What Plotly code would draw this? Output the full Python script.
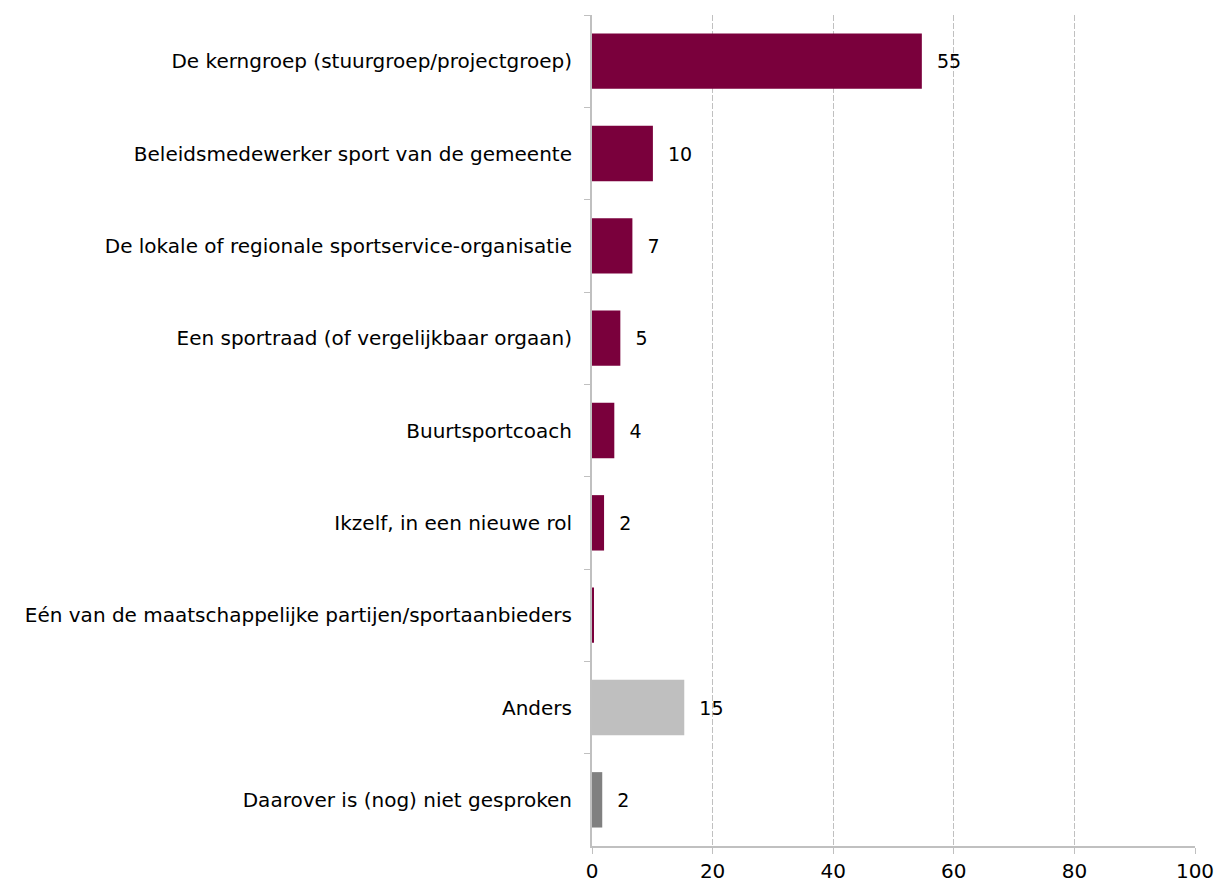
import plotly.graph_objects as go

categories = [
    "De kerngroep (stuurgroep/projectgroep)",
    "Beleidsmedewerker sport van de gemeente",
    "De lokale of regionale sportservice-organisatie",
    "Een sportraad (of vergelijkbaar orgaan)",
    "Buurtsportcoach",
    "Ikzelf, in een nieuwe rol",
    "Eén van de maatschappelijke partijen/sportaanbieders",
    "Anders",
    "Daarover is (nog) niet gesproken",
]
values = [54.7, 10.1, 6.7, 4.7, 3.7, 2.0, 0.3, 15.3, 1.7]
labels = ["55", "10", "7", "5", "4", "2", "", "15", "2"]
colors = ["#7A003C"] * 7 + ["#BFBFBF", "#808080"]

font = "DejaVu Sans"

fig = go.Figure(
    go.Bar(
        x=values,
        y=categories,
        orientation="h",
        marker=dict(color=colors, line=dict(width=0)),
        width=0.6,
        text=["  " + l if l else "" for l in labels],
        textposition="outside",
        textfont=dict(family=font, size=19, color="#000000"),
        cliponaxis=False,
        hoverinfo="skip",
    )
)

fig.update_layout(
    width=1216,
    height=882,
    margin=dict(l=592, r=21, t=15, b=36),
    plot_bgcolor="white",
    paper_bgcolor="white",
    showlegend=False,
    font=dict(family=font, size=19, color="#000000"),
)
fig.update_xaxes(
    range=[0, 100],
    tickvals=[0, 20, 40, 60, 80, 100],
    showgrid=True,
    gridcolor="#C0C0C0",
    griddash="6px,2px",
    gridwidth=1,
    showline=True,
    linecolor="#C0C0C0",
    linewidth=2,
    ticks="outside",
    ticklen=6,
    tickcolor="#C0C0C0",
    tickfont=dict(family=font, size=20),
    zeroline=False,
    automargin=False,
    fixedrange=True,
)
fig.update_yaxes(
    categoryorder="array",
    categoryarray=categories,
    autorange="reversed",
    showline=True,
    linecolor="#C0C0C0",
    linewidth=2,
    ticks="outside",
    tickson="boundaries",
    ticklen=6,
    tickcolor="#C0C0C0",
    showgrid=False,
    tickfont=dict(family=font, size=20),
    ticklabelstandoff=14,
    automargin=False,
    fixedrange=True,
)

fig.write_html(
    "out.html",
    config={"displayModeBar": False},
    post_script="document.body.style.margin='0';document.body.style.overflow='hidden';",
)
